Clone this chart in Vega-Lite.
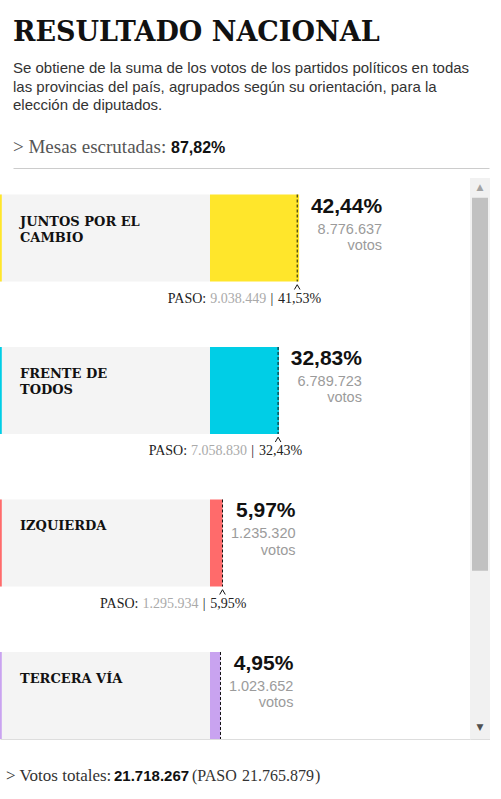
{
  "$schema": "https://vega.github.io/schema/vega-lite/v6.json",
  "background": "white",
  "padding": {"left": 0, "top": 19, "right": 0, "bottom": 0},
  "config": {
    "view": {"stroke": null},
    "font": "Liberation Sans",
    "locale": {"number": {"decimal": ",", "thousands": ".", "grouping": [3], "currency": ["$", ""]}}
  },
  "title": {
    "text": "RESULTADO NACIONAL",
    "subtitle": [
      "Se obtiene de la suma de los votos de los partidos políticos en todas",
      "las provincias del país, agrupados según su orientación, para la",
      "elección de diputados."
    ],
    "anchor": "start",
    "dx": 13,
    "font": "DejaVu Serif",
    "fontSize": 27,
    "fontWeight": "bold",
    "color": "#111111",
    "subtitleFont": "Liberation Sans",
    "subtitleFontSize": 15,
    "subtitleColor": "#333333",
    "subtitleLineHeight": 18.5,
    "subtitlePadding": 14,
    "offset": 24
  },
  "datasets": {
    "partidos": [
      {"partido": "JUNTOS POR EL\nCAMBIO", "pct": 0.4244, "votos": 8776637, "paso_votos": 9038449, "paso_pct": 0.4153},
      {"partido": "FRENTE DE\nTODOS", "pct": 0.3283, "votos": 6789723, "paso_votos": 7058830, "paso_pct": 0.3243},
      {"partido": "IZQUIERDA", "pct": 0.0597, "votos": 1235320, "paso_votos": 1295934, "paso_pct": 0.0595},
      {"partido": "TERCERA VÍA", "pct": 0.0495, "votos": 1023652, "paso_votos": null, "paso_pct": 0.05}
    ]
  },
  "spacing": 10,
  "vconcat": [
    {
      "width": 490,
      "height": 30,
      "data": {"values": [{"mesas_escrutadas": 0.8782}]},
      "layer": [
        {
          "mark": {"type": "text", "align": "left", "baseline": "alphabetic", "font": "Liberation Serif", "fontSize": 19, "color": "#555555"},
          "encoding": {
            "x": {"datum": 0, "type": "quantitative", "scale": {"domain": [0, 1], "range": [13, 489]}, "axis": {"orient": "bottom", "domain": true, "domainColor": "#cccccc", "ticks": false, "labels": false, "grid": false}, "title": null},
            "text": {"value": "> Mesas escrutadas:"}
          }
        },
        {
          "mark": {"type": "text", "align": "left", "baseline": "alphabetic", "font": "Liberation Sans", "fontWeight": "bold", "fontSize": 16, "color": "#111111", "dx": 158},
          "encoding": {
            "x": {"datum": 0, "type": "quantitative", "scale": {"domain": [0, 1], "range": [13, 489]}, "axis": {"orient": "bottom", "domain": true, "domainColor": "#cccccc", "ticks": false, "labels": false, "grid": false}, "title": null},
            "text": {"field": "mesas_escrutadas", "type": "quantitative", "format": ".2%"}
          }
        }
      ]
    },
    {
      "spacing": 0,
      "hconcat": [
        {
          "width": 470,
          "height": 561,
          "data": {"name": "partidos"},
          "encoding": {
            "y": {"field": "partido", "type": "nominal", "sort": null, "axis": null, "scale": {"paddingInner": 0.4295, "paddingOuter": 0.0541, "align": 1}}
          },
          "layer": [
            {
              "mark": {"type": "bar", "color": "#f4f4f4"},
              "encoding": {
                "x": {"datum": -1, "type": "quantitative", "scale": {"domain": [-1, 1.2381], "nice": false, "zero": false}, "axis": {"orient": "bottom", "domain": true, "domainColor": "#dddddd", "ticks": false, "labels": false, "grid": false}, "title": null},
                "x2": {"datum": 0}
              }
            },
            {
              "mark": {"type": "bar"},
              "encoding": {
                "x": {"datum": -1, "type": "quantitative", "scale": {"domain": [-1, 1.2381], "nice": false, "zero": false}, "axis": {"orient": "bottom", "domain": true, "domainColor": "#dddddd", "ticks": false, "labels": false, "grid": false}, "title": null},
                "x2": {"datum": -0.9915},
                "color": {"field": "partido", "type": "nominal", "legend": null, "scale": {"domain": ["JUNTOS POR EL\nCAMBIO", "FRENTE DE\nTODOS", "IZQUIERDA", "TERCERA VÍA"], "range": ["#ffe62b", "#00cee6", "#ff6b6b", "#c9a3f0"]}}
              }
            },
            {
              "mark": {"type": "bar"},
              "encoding": {
                "x": {"field": "pct", "type": "quantitative", "scale": {"domain": [-1, 1.2381], "nice": false, "zero": false}, "axis": {"orient": "bottom", "domain": true, "domainColor": "#dddddd", "ticks": false, "labels": false, "grid": false}, "title": null},
                "x2": {"datum": 0},
                "color": {"field": "partido", "type": "nominal", "legend": null, "scale": {"domain": ["JUNTOS POR EL\nCAMBIO", "FRENTE DE\nTODOS", "IZQUIERDA", "TERCERA VÍA"], "range": ["#ffe62b", "#00cee6", "#ff6b6b", "#c9a3f0"]}}
              }
            },
            {
              "mark": {"type": "rule", "color": "#111111", "strokeWidth": 1, "strokeDash": [3, 2]},
              "encoding": {
                "x": {"field": "paso_pct", "type": "quantitative", "scale": {"domain": [-1, 1.2381], "nice": false, "zero": false}, "axis": {"orient": "bottom", "domain": true, "domainColor": "#dddddd", "ticks": false, "labels": false, "grid": false}, "title": null},
                "y": {"field": "partido", "type": "nominal", "sort": null, "axis": null, "bandPosition": 0},
                "y2": {"field": "partido", "bandPosition": 1}
              }
            },
            {
              "transform": [{"filter": "isValid(datum.paso_votos)"}],
              "mark": {"type": "point", "shape": "M-0.35,1L0,0.4L0.35,1", "size": 256, "filled": false, "color": "#111111", "strokeWidth": 1, "opacity": 1, "clip": true},
              "encoding": {
                "x": {"field": "paso_pct", "type": "quantitative", "scale": {"domain": [-1, 1.2381], "nice": false, "zero": false}, "axis": {"orient": "bottom", "domain": true, "domainColor": "#dddddd", "ticks": false, "labels": false, "grid": false}, "title": null},
                "y": {"field": "partido", "type": "nominal", "sort": null, "axis": null, "bandPosition": 1}
              }
            },
            {
              "mark": {"type": "text", "align": "left", "baseline": "alphabetic", "font": "DejaVu Serif", "fontWeight": "bold", "fontSize": 13, "lineHeight": 16, "lineBreak": "\n", "color": "#111111", "dx": 20, "dy": 31},
              "encoding": {
                "x": {"datum": -1, "type": "quantitative", "scale": {"domain": [-1, 1.2381], "nice": false, "zero": false}, "axis": {"orient": "bottom", "domain": true, "domainColor": "#dddddd", "ticks": false, "labels": false, "grid": false}, "title": null},
                "y": {"field": "partido", "type": "nominal", "sort": null, "axis": null, "bandPosition": 0},
                "text": {"field": "partido", "type": "nominal"}
              }
            },
            {
              "transform": [{"filter": "datum.pct >= 0.1"}],
              "mark": {"type": "text", "align": "right", "baseline": "alphabetic", "font": "Liberation Sans", "fontWeight": "bold", "fontSize": 21, "color": "#111111", "dx": 83, "dy": 18},
              "encoding": {
                "x": {"field": "pct", "type": "quantitative", "scale": {"domain": [-1, 1.2381], "nice": false, "zero": false}, "axis": {"orient": "bottom", "domain": true, "domainColor": "#dddddd", "ticks": false, "labels": false, "grid": false}, "title": null},
                "y": {"field": "partido", "type": "nominal", "sort": null, "axis": null, "bandPosition": 0},
                "text": {"field": "pct", "type": "quantitative", "format": ".2%"}
              }
            },
            {
              "transform": [{"filter": "datum.pct < 0.1"}],
              "mark": {"type": "text", "align": "right", "baseline": "alphabetic", "font": "Liberation Sans", "fontWeight": "bold", "fontSize": 21, "color": "#111111", "dx": 73, "dy": 18},
              "encoding": {
                "x": {"field": "pct", "type": "quantitative", "scale": {"domain": [-1, 1.2381], "nice": false, "zero": false}, "axis": {"orient": "bottom", "domain": true, "domainColor": "#dddddd", "ticks": false, "labels": false, "grid": false}, "title": null},
                "y": {"field": "partido", "type": "nominal", "sort": null, "axis": null, "bandPosition": 0},
                "text": {"field": "pct", "type": "quantitative", "format": ".2%"}
              }
            },
            {
              "transform": [{"filter": "datum.pct >= 0.1"}],
              "mark": {"type": "text", "align": "right", "baseline": "alphabetic", "font": "Liberation Sans", "fontSize": 14.5, "color": "#9b9b9b", "dx": 83, "dy": 39},
              "encoding": {
                "x": {"field": "pct", "type": "quantitative", "scale": {"domain": [-1, 1.2381], "nice": false, "zero": false}, "axis": {"orient": "bottom", "domain": true, "domainColor": "#dddddd", "ticks": false, "labels": false, "grid": false}, "title": null},
                "y": {"field": "partido", "type": "nominal", "sort": null, "axis": null, "bandPosition": 0},
                "text": {"field": "votos", "type": "quantitative", "format": ",d"}
              }
            },
            {
              "transform": [{"filter": "datum.pct < 0.1"}],
              "mark": {"type": "text", "align": "right", "baseline": "alphabetic", "font": "Liberation Sans", "fontSize": 14.5, "color": "#9b9b9b", "dx": 73, "dy": 39},
              "encoding": {
                "x": {"field": "pct", "type": "quantitative", "scale": {"domain": [-1, 1.2381], "nice": false, "zero": false}, "axis": {"orient": "bottom", "domain": true, "domainColor": "#dddddd", "ticks": false, "labels": false, "grid": false}, "title": null},
                "y": {"field": "partido", "type": "nominal", "sort": null, "axis": null, "bandPosition": 0},
                "text": {"field": "votos", "type": "quantitative", "format": ",d"}
              }
            },
            {
              "transform": [{"filter": "datum.pct >= 0.1"}],
              "mark": {"type": "text", "align": "right", "baseline": "alphabetic", "font": "Liberation Sans", "fontSize": 14.5, "color": "#9b9b9b", "dx": 83, "dy": 55.5, "text": "votos"},
              "encoding": {
                "x": {"field": "pct", "type": "quantitative", "scale": {"domain": [-1, 1.2381], "nice": false, "zero": false}, "axis": {"orient": "bottom", "domain": true, "domainColor": "#dddddd", "ticks": false, "labels": false, "grid": false}, "title": null},
                "y": {"field": "partido", "type": "nominal", "sort": null, "axis": null, "bandPosition": 0}
              }
            },
            {
              "transform": [{"filter": "datum.pct < 0.1"}],
              "mark": {"type": "text", "align": "right", "baseline": "alphabetic", "font": "Liberation Sans", "fontSize": 14.5, "color": "#9b9b9b", "dx": 73, "dy": 55.5, "text": "votos"},
              "encoding": {
                "x": {"field": "pct", "type": "quantitative", "scale": {"domain": [-1, 1.2381], "nice": false, "zero": false}, "axis": {"orient": "bottom", "domain": true, "domainColor": "#dddddd", "ticks": false, "labels": false, "grid": false}, "title": null},
                "y": {"field": "partido", "type": "nominal", "sort": null, "axis": null, "bandPosition": 0}
              }
            },
            {
              "transform": [{"filter": "isValid(datum.paso_votos)"}],
              "mark": {"type": "text", "align": "right", "baseline": "alphabetic", "font": "Liberation Serif", "fontSize": 14, "color": "#222222", "dx": 24, "dy": 21, "clip": true},
              "encoding": {
                "x": {"field": "paso_pct", "type": "quantitative", "scale": {"domain": [-1, 1.2381], "nice": false, "zero": false}, "axis": {"orient": "bottom", "domain": true, "domainColor": "#dddddd", "ticks": false, "labels": false, "grid": false}, "title": null},
                "y": {"field": "partido", "type": "nominal", "sort": null, "axis": null, "bandPosition": 1},
                "text": {"field": "paso_pct", "type": "quantitative", "format": ".2%"}
              }
            },
            {
              "transform": [{"filter": "isValid(datum.paso_votos) && datum.paso_pct >= 0.1"}],
              "mark": {"type": "text", "align": "right", "baseline": "alphabetic", "font": "Liberation Serif", "fontSize": 14, "color": "#222222", "dx": -24, "dy": 21, "text": "|", "clip": true},
              "encoding": {
                "x": {"field": "paso_pct", "type": "quantitative", "scale": {"domain": [-1, 1.2381], "nice": false, "zero": false}, "axis": {"orient": "bottom", "domain": true, "domainColor": "#dddddd", "ticks": false, "labels": false, "grid": false}, "title": null},
                "y": {"field": "partido", "type": "nominal", "sort": null, "axis": null, "bandPosition": 1}
              }
            },
            {
              "transform": [{"filter": "isValid(datum.paso_votos) && datum.paso_pct < 0.1"}],
              "mark": {"type": "text", "align": "right", "baseline": "alphabetic", "font": "Liberation Serif", "fontSize": 14, "color": "#222222", "dx": -17, "dy": 21, "text": "|", "clip": true},
              "encoding": {
                "x": {"field": "paso_pct", "type": "quantitative", "scale": {"domain": [-1, 1.2381], "nice": false, "zero": false}, "axis": {"orient": "bottom", "domain": true, "domainColor": "#dddddd", "ticks": false, "labels": false, "grid": false}, "title": null},
                "y": {"field": "partido", "type": "nominal", "sort": null, "axis": null, "bandPosition": 1}
              }
            },
            {
              "transform": [{"filter": "isValid(datum.paso_votos) && datum.paso_pct >= 0.1"}],
              "mark": {"type": "text", "align": "right", "baseline": "alphabetic", "font": "Liberation Serif", "fontSize": 14, "color": "#aaaaaa", "dx": -31, "dy": 21, "clip": true},
              "encoding": {
                "x": {"field": "paso_pct", "type": "quantitative", "scale": {"domain": [-1, 1.2381], "nice": false, "zero": false}, "axis": {"orient": "bottom", "domain": true, "domainColor": "#dddddd", "ticks": false, "labels": false, "grid": false}, "title": null},
                "y": {"field": "partido", "type": "nominal", "sort": null, "axis": null, "bandPosition": 1},
                "text": {"field": "paso_votos", "type": "quantitative", "format": ",d"}
              }
            },
            {
              "transform": [{"filter": "isValid(datum.paso_votos) && datum.paso_pct < 0.1"}],
              "mark": {"type": "text", "align": "right", "baseline": "alphabetic", "font": "Liberation Serif", "fontSize": 14, "color": "#aaaaaa", "dx": -24, "dy": 21, "clip": true},
              "encoding": {
                "x": {"field": "paso_pct", "type": "quantitative", "scale": {"domain": [-1, 1.2381], "nice": false, "zero": false}, "axis": {"orient": "bottom", "domain": true, "domainColor": "#dddddd", "ticks": false, "labels": false, "grid": false}, "title": null},
                "y": {"field": "partido", "type": "nominal", "sort": null, "axis": null, "bandPosition": 1},
                "text": {"field": "paso_votos", "type": "quantitative", "format": ",d"}
              }
            },
            {
              "transform": [{"filter": "isValid(datum.paso_votos) && datum.paso_pct >= 0.1"}],
              "mark": {"type": "text", "align": "right", "baseline": "alphabetic", "font": "Liberation Serif", "fontSize": 14, "color": "#222222", "dx": -91, "dy": 21, "text": "PASO:", "clip": true},
              "encoding": {
                "x": {"field": "paso_pct", "type": "quantitative", "scale": {"domain": [-1, 1.2381], "nice": false, "zero": false}, "axis": {"orient": "bottom", "domain": true, "domainColor": "#dddddd", "ticks": false, "labels": false, "grid": false}, "title": null},
                "y": {"field": "partido", "type": "nominal", "sort": null, "axis": null, "bandPosition": 1}
              }
            },
            {
              "transform": [{"filter": "isValid(datum.paso_votos) && datum.paso_pct < 0.1"}],
              "mark": {"type": "text", "align": "right", "baseline": "alphabetic", "font": "Liberation Serif", "fontSize": 14, "color": "#222222", "dx": -84, "dy": 21, "text": "PASO:", "clip": true},
              "encoding": {
                "x": {"field": "paso_pct", "type": "quantitative", "scale": {"domain": [-1, 1.2381], "nice": false, "zero": false}, "axis": {"orient": "bottom", "domain": true, "domainColor": "#dddddd", "ticks": false, "labels": false, "grid": false}, "title": null},
                "y": {"field": "partido", "type": "nominal", "sort": null, "axis": null, "bandPosition": 1}
              }
            }
          ]
        },
        {
          "width": 20,
          "height": 561,
          "view": {"fill": "#f1f1f1", "stroke": null},
          "data": {"values": [{"vista_desde": 0.035, "vista_hasta": 0.70}]},
          "layer": [
            {
              "mark": {"type": "bar", "color": "#c1c1c1", "width": 16},
              "encoding": {
                "x": {"datum": 0.5, "type": "quantitative", "scale": {"domain": [0, 1]}, "axis": {"orient": "bottom", "domain": true, "domainColor": "#dddddd", "ticks": false, "labels": false, "grid": false}, "title": null},
                "y": {"field": "vista_desde", "type": "quantitative", "scale": {"domain": [0, 1], "reverse": true}, "axis": null},
                "y2": {"field": "vista_hasta"}
              }
            },
            {
              "mark": {"type": "text", "text": "▲", "font": "DejaVu Sans", "fontSize": 9, "color": "#a3a3a3", "baseline": "middle", "dy": 9},
              "encoding": {
                "x": {"datum": 0.5, "type": "quantitative", "scale": {"domain": [0, 1]}, "axis": {"orient": "bottom", "domain": true, "domainColor": "#dddddd", "ticks": false, "labels": false, "grid": false}, "title": null},
                "y": {"datum": 0, "type": "quantitative", "scale": {"domain": [0, 1], "reverse": true}, "axis": null}
              }
            },
            {
              "mark": {"type": "text", "text": "▼", "font": "DejaVu Sans", "fontSize": 9, "color": "#505050", "baseline": "middle", "dy": -12},
              "encoding": {
                "x": {"datum": 0.5, "type": "quantitative", "scale": {"domain": [0, 1]}, "axis": {"orient": "bottom", "domain": true, "domainColor": "#dddddd", "ticks": false, "labels": false, "grid": false}, "title": null},
                "y": {"datum": 1, "type": "quantitative", "scale": {"domain": [0, 1], "reverse": true}, "axis": null}
              }
            }
          ]
        }
      ]
    },
    {
      "width": 490,
      "height": 62,
      "data": {"values": [{"votos_totales": 21718267, "votos_totales_paso": 21765879}]},
      "layer": [
        {
          "mark": {"type": "text", "align": "left", "baseline": "alphabetic", "font": "Liberation Serif", "fontSize": 17, "color": "#333333"},
          "encoding": {
            "x": {"datum": 0, "type": "quantitative", "scale": {"domain": [0, 1], "range": [6, 490]}, "axis": null},
            "text": {"value": "> Votos totales:"}
          }
        },
        {
          "mark": {"type": "text", "align": "left", "baseline": "alphabetic", "font": "Liberation Sans", "fontWeight": "bold", "fontSize": 15, "color": "#111111", "dx": 108},
          "encoding": {
            "x": {"datum": 0, "type": "quantitative", "scale": {"domain": [0, 1], "range": [6, 490]}, "axis": null},
            "text": {"field": "votos_totales", "type": "quantitative", "format": ",d"}
          }
        },
        {
          "mark": {"type": "text", "align": "left", "baseline": "alphabetic", "font": "Liberation Serif", "fontSize": 16, "color": "#333333", "dx": 186},
          "encoding": {
            "x": {"datum": 0, "type": "quantitative", "scale": {"domain": [0, 1], "range": [6, 490]}, "axis": null},
            "text": {"value": "(PASO"}
          }
        },
        {
          "mark": {"type": "text", "align": "left", "baseline": "alphabetic", "font": "Liberation Serif", "fontSize": 16, "color": "#333333", "dx": 236},
          "encoding": {
            "x": {"datum": 0, "type": "quantitative", "scale": {"domain": [0, 1], "range": [6, 490]}, "axis": null},
            "text": {"field": "votos_totales_paso", "type": "quantitative", "format": ",d"}
          }
        },
        {
          "mark": {"type": "text", "align": "left", "baseline": "alphabetic", "font": "Liberation Serif", "fontSize": 16, "color": "#333333", "dx": 309},
          "encoding": {
            "x": {"datum": 0, "type": "quantitative", "scale": {"domain": [0, 1], "range": [6, 490]}, "axis": null},
            "text": {"value": ")"}
          }
        }
      ]
    }
  ]
}
